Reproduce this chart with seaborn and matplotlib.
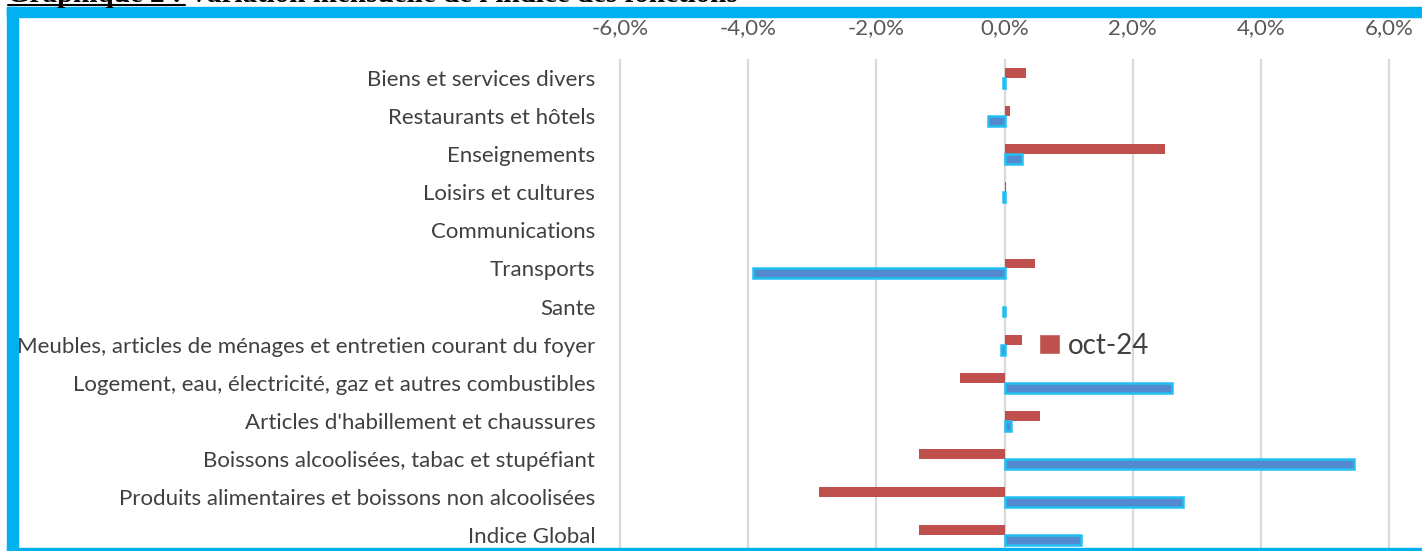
import matplotlib
matplotlib.use('Agg')
import matplotlib.pyplot as plt
from matplotlib.patches import Rectangle
from matplotlib.lines import Line2D
from matplotlib.ticker import FuncFormatter
import seaborn as sns
import pandas as pd
import numpy as np

# données (variation mensuelle en %)
fonctions = [
    "Biens et services divers",
    "Restaurants et hôtels",
    "Enseignements",
    "Loisirs et cultures",
    "Communications",
    "Transports",
    "Sante",
    "Meubles, articles de ménages et entretien courant du foyer",
    "Logement, eau, électricité, gaz et autres combustibles",
    "Articles d'habillement et chaussures",
    "Boissons alcoolisées, tabac et stupéfiant",
    "Produits alimentaires et boissons non alcoolisées",
    "Indice Global",
]
oct_24 = [0.34, 0.09, 2.50, 0.03, 0.0, 0.47, 0.0, 0.27, -0.69, 0.56, -1.33, -2.89, -1.34]
nov_24 = [-0.03, -0.25, 0.27, -0.02, 0.0, -3.92, -0.02, -0.06, 2.62, 0.10, 5.46, 2.78, 1.20]
series = ["oct-24", "nov-24"]
xticks = [-6, -4, -2, 0, 2, 4, 6]

df = pd.DataFrame({
    'fonction': fonctions * 2,
    'variation': oct_24 + nov_24,
    'serie': [series[0]] * len(fonctions) + [series[1]] * len(fonctions),
})

sns.set_style('white')
plt.rcParams['font.family'] = ['Lato', 'DejaVu Sans']

W, H = 1422, 551
fig = plt.figure(figsize=(W / 100, H / 100), dpi=100)

def fx(px):
    return px / W

def fy(py):
    return 1 - py / H

ax = fig.add_axes([fx(612), fy(548), fx(1422) - fx(612), fy(59) - fy(548)])

sns.barplot(data=df, x='variation', y='fonction', hue='serie', hue_order=series,
            palette={'oct-24': '#C0504D', 'nov-24': '#5289CF'}, orient='h',
            width=0.52, saturation=1, errorbar=None, ax=ax)

# effet lumineux sur la série bleue
for bar in ax.containers[1]:
    if bar.get_width() == 0:
        bar.set_linewidth(0)
    else:
        bar.set_edgecolor('#22C0F2')
        bar.set_linewidth(1.8)
for bar in ax.containers[0]:
    bar.set_linewidth(0)

ax.set_xlim(-6.125, 6.515)
ax.set_ylim(12.34, -0.5)
ax.xaxis.tick_top()
ax.set_xticks(xticks)
ax.xaxis.set_major_formatter(FuncFormatter(lambda v, p: f"{v:.1f}%".replace('.', ',')))
ax.tick_params(axis='x', length=0, pad=15, labelsize=16, labelcolor='#595959')
ax.tick_params(axis='y', length=0, pad=12, labelsize=16, labelcolor='#404040')
ax.grid(axis='x', color='#D9D9D9', linewidth=1.6)
ax.set_axisbelow(True)
for s in ax.spines.values():
    s.set_visible(False)
ax.set_xlabel('')
ax.set_ylabel('')

handles, labels = ax.get_legend_handles_labels()
ax.legend(handles[:1], labels[:1], loc='center left', bbox_to_anchor=(fx(1014), fy(346)),
          bbox_transform=fig.transFigure, frameon=False, fontsize=20,
          handlelength=0.75, handleheight=0.75, handletextpad=0.3, labelcolor='#404040')

# cadre bleu
cyan = '#00B0F0'
fig.add_artist(Rectangle((fx(7), fy(551)), fx(11), fy(7) - fy(551), color=cyan, transform=fig.transFigure))
fig.add_artist(Rectangle((fx(7), fy(17)), fx(1415), fy(7) - fy(17), color=cyan, transform=fig.transFigure))
fig.add_artist(Rectangle((fx(7), fy(551)), fx(1415), fy(548) - fy(551), color=cyan, transform=fig.transFigure))

# titre (coupé en haut)
fig.text(fx(7), fy(1.5), "Graphique 2 : Variation mensuelle de l'indice des fonctions",
         family='Liberation Serif', fontweight='bold', fontsize=21, va='baseline', color='black')
fig.add_artist(Line2D([fx(8), fx(185)], [fy(4.5), fy(4.5)], color='black', linewidth=1.5))

fig.savefig('out.png', dpi=100)
